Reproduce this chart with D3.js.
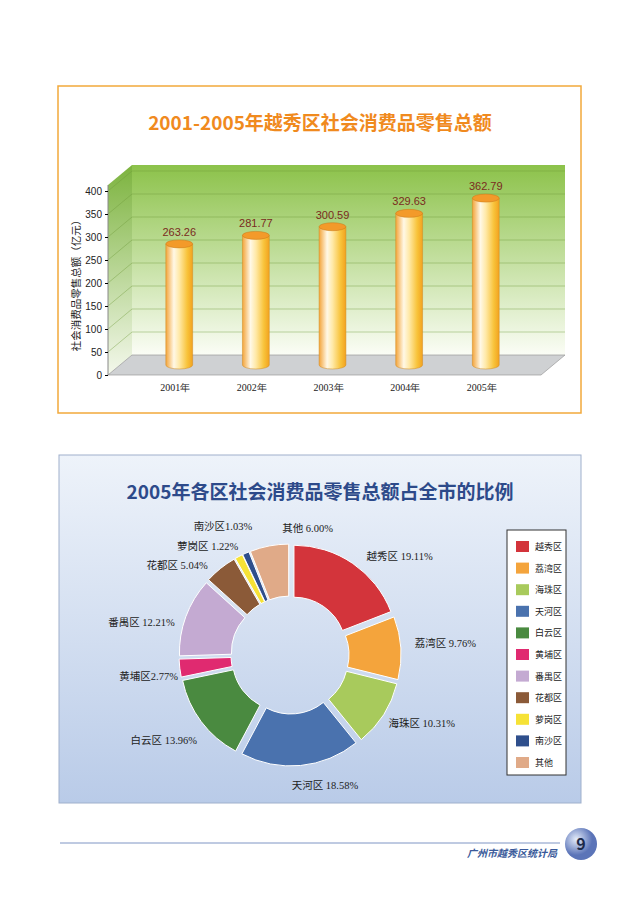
<!DOCTYPE html>
<html><head><meta charset="utf-8">
<script src="https://cdn.jsdelivr.net/npm/d3@7"></script>
<style>body{margin:0;background:#fff;font-family:"Noto Sans CJK SC",sans-serif}</style>
</head><body>
<svg id="c" width="640" height="911"></svg>
<script>
// bar chart data
const years = ["2001年","2002年","2003年","2004年","2005年"];
const totals = [263.26, 281.77, 300.59, 329.63, 362.79];
const yTicks = [0,50,100,150,200,250,300,350,400];

// pie data
const districts = ["越秀区","荔湾区","海珠区","天河区","白云区","黄埔区","番禺区","花都区","萝岗区","南沙区","其他"];
const shares = [19.11, 9.76, 10.31, 18.58, 13.96, 2.77, 12.21, 5.04, 1.22, 1.03, 6.00];
const colors = ["#d3343b","#f4a43c","#a8ca5c","#4a72ae","#4a8a40","#e02a70","#c4aad2","#8b5a38","#f6e236","#2f4f8c","#e0aa88"];
const labelSep = [" "," "," "," "," ",""," "," "," ",""," "];

const svg = d3.select("#c");
const defs = svg.append("defs");

// ---- bar chart panel ----
svg.append("rect").attr("x",58).attr("y",86).attr("width",523).attr("height",327)
  .attr("fill","#fff").attr("stroke","#f2a93b").attr("stroke-width",1.5);
svg.append("text").attr("x",320).attr("y",130).attr("text-anchor","middle")
  .attr("font-size",19).attr("font-weight","bold").attr("fill","#f08a1e")
  .text("2001-2005年越秀区社会消费品零售总额");

const dx = 24, dy = -20;
const yFront = d3.scaleLinear().domain([0,400]).range([375,191]);
const yBack = v => yFront(v) + dy;
const x0 = 108, x1 = 541;

let wall = defs.append("linearGradient").attr("id","wall").attr("x1",0).attr("y1",0).attr("x2",0).attr("y2",1);
wall.append("stop").attr("offset",0).attr("stop-color","#8cc24a");
wall.append("stop").attr("offset",1).attr("stop-color","#fbfdf6");
let side = defs.append("linearGradient").attr("id","side").attr("x1",0).attr("y1",0).attr("x2",0).attr("y2",1);
side.append("stop").attr("offset",0).attr("stop-color","#7cb33e");
side.append("stop").attr("offset",1).attr("stop-color","#f4f8ec");

svg.append("path").attr("d",`M${x0},${yFront(0)}L${x0},${yFront(400)-6}L${x0+dx},${yBack(400)-6}L${x0+dx},${yBack(0)}Z`)
  .attr("fill","url(#side)");
svg.append("rect").attr("x",x0+dx).attr("y",yBack(400)-6).attr("width",x1-x0).attr("height",yBack(0)-yBack(400)+6)
  .attr("fill","url(#wall)");
svg.append("path").attr("d",`M${x0},${yFront(0)}L${x0+dx},${yBack(0)}L${x1+dx},${yBack(0)}L${x1},${yFront(0)}Z`)
  .attr("fill","#cfd1d3").attr("stroke","#9a9a9a").attr("stroke-width",0.7);
yTicks.filter(t=>t>0).forEach(t=>{
  svg.append("path").attr("d",`M${x0},${yFront(t)}L${x0+dx},${yBack(t)}L${x1+dx},${yBack(t)}`)
    .attr("fill","none").attr("stroke","#6f9a3a").attr("stroke-width",0.6).attr("opacity",0.7);
});
svg.append("line").attr("x1",x0).attr("x2",x0).attr("y1",yFront(0)).attr("y2",yFront(400)-6).attr("stroke","#888");
const yAxis = d3.axisLeft(yFront).tickValues(yTicks).tickSize(3);
svg.append("g").attr("transform",`translate(${x0},0)`).call(yAxis)
  .call(g=>{g.select(".domain").remove();g.selectAll("text").attr("font-size",10).attr("fill","#222").attr("font-family","Liberation Sans, sans-serif");});
svg.append("text").attr("transform","translate(80,283) rotate(-90)").attr("text-anchor","middle")
  .attr("font-size",10.5).attr("fill","#222").text("社会消费品零售总额（亿元）");

const xb = d3.scaleBand().domain(years).range([x0+8, x1+8]).padding(0.65);
const baseY = (yFront(0)+yBack(0))/2;
const yBar = v => baseY - (yFront(0)-yFront(v));
let cyl = defs.append("linearGradient").attr("id","cyl");
[["0","#f3a43a"],["0.3","#fff8e6"],["0.5","#ffe9a8"],["0.8","#f8c33a"],["1","#f2a21f"]]
  .forEach(s=>cyl.append("stop").attr("offset",s[0]).attr("stop-color",s[1]));
const bw = xb.bandwidth(), ry = 4;
const bars = svg.append("g").selectAll("g").data(totals).join("g");
bars.append("path").attr("d",(d,i)=>{const x=xb(years[i]);return `M${x},${yBar(d)}L${x},${baseY}A${bw/2},${ry} 0 0 0 ${x+bw},${baseY}L${x+bw},${yBar(d)}Z`;})
  .attr("fill","url(#cyl)").attr("stroke","#d08a20").attr("stroke-width",0.5);
bars.append("ellipse").attr("cx",(d,i)=>xb(years[i])+bw/2).attr("cy",d=>yBar(d)).attr("rx",bw/2).attr("ry",ry)
  .attr("fill","#f39a2a").attr("stroke","#c77a1a").attr("stroke-width",0.5);
bars.append("text").attr("x",(d,i)=>xb(years[i])+bw/2).attr("y",d=>yBar(d)-8).attr("text-anchor","middle")
  .attr("font-size",11).attr("fill","#7a2b1e").attr("font-family","Liberation Sans, sans-serif").text(d=>d.toFixed(2));
svg.append("g").selectAll("text").data(years).join("text")
  .attr("x",d=>xb(d)+bw/2-4).attr("y",391).attr("text-anchor","middle")
  .attr("font-size",10).attr("fill","#222").attr("font-family","Liberation Serif, serif").text(d=>d);

// ---- pie panel ----
let bg = defs.append("linearGradient").attr("id","bg").attr("x1",0).attr("y1",0).attr("x2",0).attr("y2",1);
bg.append("stop").attr("offset",0).attr("stop-color","#eef3fa");
bg.append("stop").attr("offset",1).attr("stop-color","#b9cbe8");
svg.append("rect").attr("x",59).attr("y",455).attr("width",522).attr("height",348)
  .attr("fill","url(#bg)").attr("stroke","#9fb0cc");
svg.append("text").attr("x",320).attr("y",499).attr("text-anchor","middle")
  .attr("font-size",19).attr("font-weight","bold").attr("fill","#2d4a8a")
  .text("2005年各区社会消费品零售总额占全市的比例");

const cx = 290, cy = 655;
const pie = d3.pie().sort(null).value(d=>d)(shares);
const arc = d3.arc().innerRadius(52).outerRadius(104);
const gp = svg.append("g").attr("transform",`translate(${cx},${cy})`);
gp.selectAll("path").data(pie).join("path")
  .attr("d",arc).attr("fill",(d,i)=>colors[i]).attr("stroke","#fff").attr("stroke-width",1)
  .attr("transform",d=>{const a=(d.startAngle+d.endAngle)/2;return `translate(${7*Math.sin(a)},${-7*Math.cos(a)})`;});
const labOff = [[6,4],[0,-4],[-7,1],[23,6],[7,10],[12,6],[2,10],[-4,7],[6,2],[12,-14],[41,-4]];
const labAnchor = ["start","start","start","middle","end","end","end","end","end","end","middle"];
gp.selectAll("text").data(pie).join("text")
  .each(function(d,i){
    const a=(d.startAngle+d.endAngle)/2, r=125;
    d3.select(this).attr("x",r*Math.sin(a)+labOff[i][0]).attr("y",-r*Math.cos(a)+labOff[i][1]+4)
      .attr("text-anchor",labAnchor[i]);
  })
  .attr("font-size",10.5).attr("fill","#222").attr("font-family","Liberation Serif, Noto Sans CJK SC, serif")
  .text((d,i)=>districts[i]+labelSep[i]+shares[i].toFixed(2)+"%");

// legend
svg.append("rect").attr("x",507).attr("y",530).attr("width",59).attr("height",245)
  .attr("fill","#fff").attr("stroke","#333");
const lg = svg.append("g").selectAll("g").data(districts).join("g")
  .attr("transform",(d,i)=>`translate(516,${541+i*21.6})`);
lg.append("rect").attr("width",13).attr("height",11).attr("fill",(d,i)=>colors[i]);
lg.append("text").attr("x",19).attr("y",9).attr("font-size",9).attr("fill","#222").text(d=>d);

// footer
svg.append("line").attr("x1",60).attr("x2",560).attr("y1",843).attr("y2",843).attr("stroke","#7f95c4");
svg.append("text").attr("x",557).attr("y",857).attr("text-anchor","end").attr("font-size",10)
  .attr("font-style","italic").attr("font-weight","bold").attr("fill","#3a5a9a").text("广州市越秀区统计局");
let ball = defs.append("radialGradient").attr("id","ball").attr("cx","35%").attr("cy","35%");
ball.append("stop").attr("offset",0).attr("stop-color","#e4ecfa");
ball.append("stop").attr("offset",1).attr("stop-color","#5b74b8");
svg.append("circle").attr("cx",581).attr("cy",844).attr("r",16).attr("fill","url(#ball)");
svg.append("text").attr("x",581).attr("y",850).attr("text-anchor","middle").attr("font-size",16)
  .attr("font-weight","bold").attr("fill","#1c2a4a").text("9");
</script>
</body></html>
